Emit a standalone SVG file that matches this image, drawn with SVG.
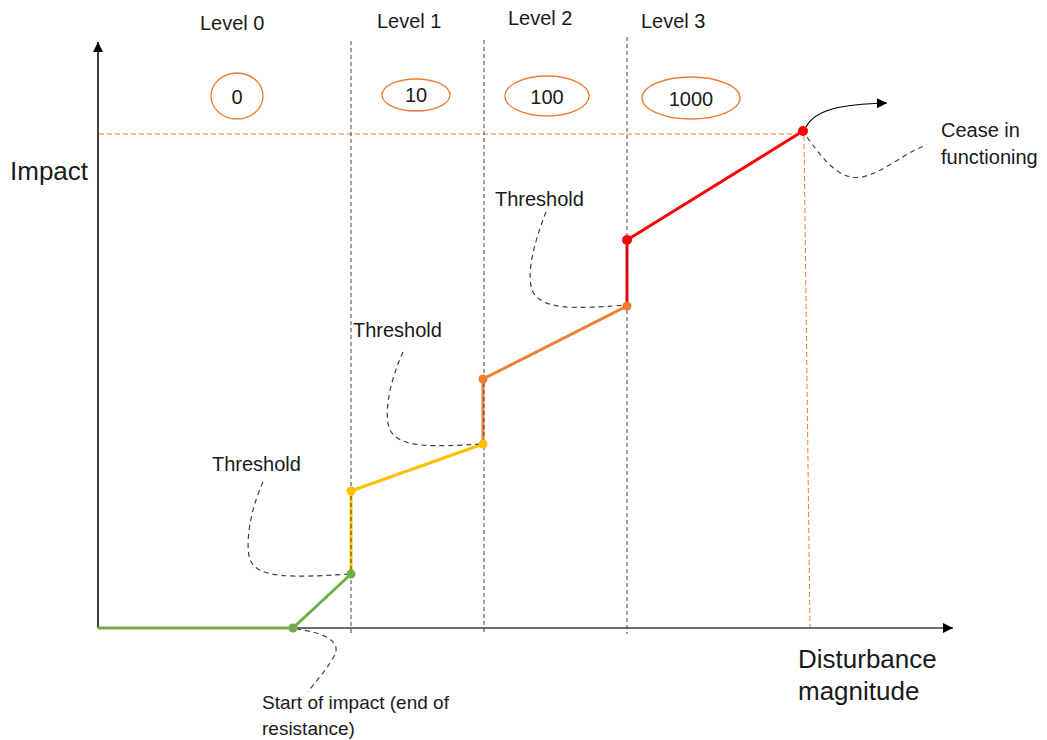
<svg xmlns="http://www.w3.org/2000/svg" width="1047" height="740" viewBox="0 0 1047 740">
<defs>
<marker id="ah" viewBox="0 0 10 10" refX="10" refY="5" markerWidth="10" markerHeight="10" markerUnits="userSpaceOnUse" orient="auto">
<path d="M0,0 L10,5 L0,10 Z" fill="#000"/>
</marker>
<style>
text{font-family:"Liberation Sans",Arial,sans-serif;fill:#1a1a1a}
.lvl{font-size:20px}
.num{font-size:20px;text-anchor:middle}
.lbl{font-size:20px}
.big{font-size:26px}
.ell{fill:#fff;stroke:#ED7D31;stroke-width:1.3}
.grid{stroke:#404040;stroke-width:1;stroke-dasharray:4 3;fill:none}
.call{stroke:#404040;stroke-width:1.2;stroke-dasharray:5 4;fill:none}
.odash{stroke:#ED7D31;stroke-width:1;stroke-dasharray:5 3;fill:none}
.seg{stroke-width:3;fill:none}
</style>
</defs>
<rect width="1047" height="740" fill="#fff"/>

<g id="guides">
<line class="odash" x1="99" y1="134" x2="803" y2="134"/>
<line class="odash" x1="804" y1="136" x2="810" y2="628"/>
</g>

<g id="connectors">
<line x1="98" y1="628" x2="953" y2="628" stroke="#404040" stroke-width="1.5" marker-end="url(#ah)"/>
<line x1="98" y1="628" x2="98" y2="42" stroke="#000" stroke-width="1.5" marker-end="url(#ah)"/>
<line class="seg" x1="98" y1="628" x2="293" y2="628" stroke="#70AD47"/>
<line class="seg" x1="293" y1="628" x2="351" y2="574" stroke="#70AD47"/>
<line class="seg" x1="351" y1="574" x2="351" y2="491" stroke="#FFC000"/>
<line class="seg" x1="351" y1="491" x2="483" y2="444" stroke="#FFC000"/>
<line class="seg" x1="483" y1="444" x2="483" y2="379" stroke="#ED7D31"/>
<line class="seg" x1="483" y1="379" x2="627" y2="306" stroke="#ED7D31"/>
<line class="seg" x1="627" y1="306" x2="627" y2="240" stroke="#FF0000"/>
<line class="seg" x1="627" y1="240" x2="803" y2="131" stroke="#FF0000"/>
<line class="grid" x1="351" y1="41" x2="351" y2="634"/>
<line class="grid" x1="484" y1="40" x2="484" y2="634"/>
<line class="grid" x1="627" y1="37" x2="627" y2="634"/>
<path d="M806,127 C815,110 840,104 887,103" stroke="#000" stroke-width="1.2" fill="none" marker-end="url(#ah)"/>
<path class="call" d="M807,137 C830,170 845,180 862,177 C885,172 905,152 927,145"/>
<path class="call" d="M263,482 C250,510 245,545 250,560 C258,578 290,578 350,574"/>
<path class="call" d="M403,352 C390,380 383,415 390,430 C400,448 430,447 482,444"/>
<path class="call" d="M546,212 C535,240 525,275 533,292 C543,310 575,309 626,305"/>
<path class="call" d="M296,629 C320,632 345,640 333,658 C325,672 315,682 308,692"/>
</g>

<g id="points">
<circle cx="293" cy="628" r="4.5" fill="#70AD47"/>
<circle cx="351" cy="574" r="4.5" fill="#70AD47"/>
<circle cx="351" cy="491" r="4.5" fill="#FFC000"/>
<circle cx="483" cy="444" r="4.5" fill="#FFC000"/>
<circle cx="483" cy="379" r="4.5" fill="#ED7D31"/>
<circle cx="627" cy="306" r="4.5" fill="#ED7D31"/>
<circle cx="627" cy="240" r="5" fill="#FF0000"/>
<circle cx="803" cy="131" r="5" fill="#FF0000"/>
</g>

<g id="level0"><text class="lvl" x="200" y="30">Level 0</text></g>
<g id="level1"><text class="lvl" x="377" y="28">Level 1</text></g>
<g id="level2"><text class="lvl" x="508" y="25">Level 2</text></g>
<g id="level3"><text class="lvl" x="641" y="28">Level 3</text></g>

<g id="val0"><ellipse class="ell" cx="237" cy="96" rx="26" ry="23"/><text class="num" x="237" y="104">0</text></g>
<g id="val10"><ellipse class="ell" cx="416" cy="95" rx="34" ry="16"/><text class="num" x="416" y="102">10</text></g>
<g id="val100"><ellipse class="ell" cx="547" cy="96" rx="42" ry="20"/><text class="num" x="547" y="104">100</text></g>
<g id="val1000"><ellipse class="ell" cx="691" cy="98" rx="49" ry="21"/><text class="num" x="691" y="106">1000</text></g>

<g id="impact"><text class="big" x="10" y="180">Impact</text></g>
<g id="disturbance"><text class="big" x="798" y="668">Disturbance</text><text class="big" x="798" y="700">magnitude</text></g>
<g id="cease"><text class="lbl" x="941" y="137">Cease in</text><text class="lbl" x="941" y="164">functioning</text></g>
<g id="threshold1"><text class="lbl" x="212" y="471">Threshold</text></g>
<g id="threshold2"><text class="lbl" x="353" y="337">Threshold</text></g>
<g id="threshold3"><text class="lbl" x="495" y="206">Threshold</text></g>
<g id="start"><text class="lbl" style="font-size:19px" x="262" y="709">Start of impact (end of</text><text class="lbl" style="font-size:19px" x="262" y="735">resistance)</text></g>
</svg>
